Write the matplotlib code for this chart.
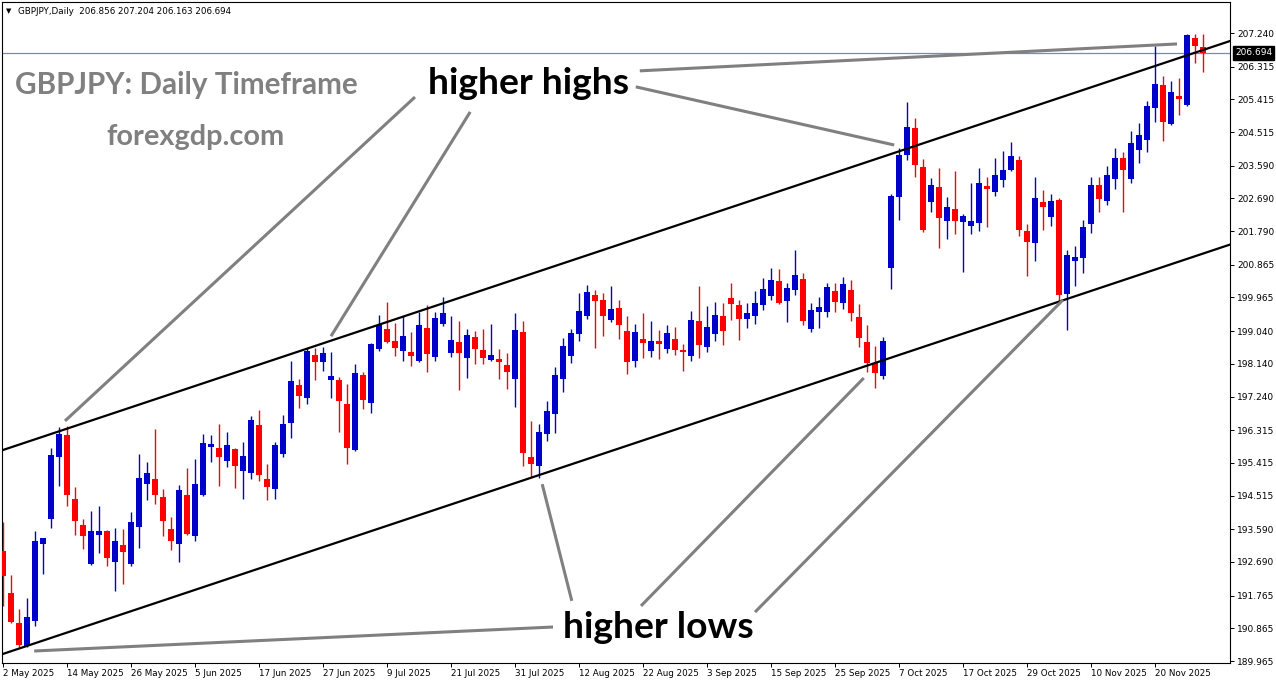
import matplotlib
matplotlib.use('Agg')
import matplotlib.pyplot as plt

# GBPJPY daily candles, 2 May 2025 .. 28 Nov 2025
opens = [192.99, 191.84, 191.01, 190.38, 191.07, 193.19, 193.87, 195.58, 196.18, 194.42,
         193.71, 192.63, 193.43, 193.54, 192.69, 193.16, 192.63, 193.65, 194.83, 194.97,
         194.48, 193.60, 193.19, 194.53, 193.40, 194.53, 195.85, 195.82, 195.47, 195.80,
         195.19, 195.14, 196.46, 194.97, 194.70, 195.66, 196.51, 197.56, 197.20, 198.38,
         198.19, 197.70, 197.70, 197.04, 195.77, 197.83, 197.06, 198.55, 199.10, 198.77,
         198.49, 198.47, 198.22, 199.13, 198.33, 199.24, 198.44, 198.74, 198.30, 198.88,
         198.52, 198.25, 198.28, 198.11, 197.72, 199.02, 195.58, 195.33, 196.21, 196.76,
         197.72, 198.36, 198.96, 199.46, 200.03, 199.90, 199.35, 199.68, 199.04, 198.22,
         198.82, 198.49, 198.77, 198.55, 198.82, 198.52, 198.36, 199.32, 198.60, 198.96,
         199.46, 199.95, 199.76, 199.37, 199.46, 199.76, 200.01, 200.42, 199.87, 200.17,
         200.47, 199.10, 199.57, 199.57, 200.14, 199.81, 200.17, 199.43, 198.74, 198.17,
         197.81, 200.78, 202.73, 203.89, 204.63, 203.56, 202.59, 203.00, 202.07, 202.40,
         202.04, 201.93, 202.01, 203.03, 202.87, 203.20, 203.47, 203.75, 201.79, 201.46,
         202.59, 202.18, 202.65, 200.06, 200.97, 201.05, 201.99, 203.06, 202.62, 203.22,
         203.80, 203.22, 204.02, 204.30, 205.18, 205.81, 204.74, 205.51, 205.26, 207.10,
         206.856]
highs = [193.79, 192.33, 191.40, 191.70, 193.54, 193.36, 195.82, 196.40, 196.43, 194.75,
         193.87, 194.09, 194.23, 193.56, 193.62, 193.60, 194.06, 195.66, 195.44, 196.35,
         194.70, 193.93, 194.81, 195.27, 195.52, 196.21, 196.18, 196.48, 196.26, 195.83,
         195.99, 196.70, 196.87, 195.38, 195.99, 196.73, 198.22, 197.72, 198.58, 198.58,
         198.60, 198.47, 197.78, 197.59, 198.14, 197.92, 198.70, 199.48, 199.84, 199.26,
         199.46, 199.02, 199.57, 199.76, 199.57, 199.98, 199.46, 199.32, 199.10, 199.04,
         199.10, 199.24, 198.55, 198.44, 199.54, 199.32, 196.57, 196.48, 197.12, 198.05,
         198.85, 199.10, 200.09, 200.31, 200.17, 200.09, 200.28, 199.90, 199.46, 199.24,
         199.54, 199.32, 199.07, 199.21, 199.15, 198.69, 199.59, 200.28, 199.73, 199.84,
         199.81, 200.36, 199.90, 199.81, 200.14, 200.50, 200.78, 200.76, 200.36, 201.27,
         200.63, 199.81, 199.98, 200.36, 200.36, 200.53, 200.45, 199.79, 199.21, 198.63,
         198.88, 202.81, 204.08, 205.34, 204.90, 203.78, 203.25, 203.53, 202.73, 203.45,
         202.26, 203.11, 203.53, 203.28, 203.80, 204.00, 204.24, 203.86, 201.99, 203.28,
         202.92, 202.81, 202.70, 201.27, 201.38, 202.10, 203.28, 203.28, 203.58, 204.08,
         203.97, 204.55, 204.77, 205.37, 206.88, 206.06, 205.92, 206.00, 207.21, 207.21,
         207.204]
lows = [191.48, 191.00, 190.35, 190.35, 190.93, 192.36, 193.62, 194.78, 194.23, 193.43,
        193.05, 192.60, 192.94, 192.58, 191.90, 192.09, 192.58, 193.08, 194.39, 194.28,
        193.40, 193.02, 192.69, 193.43, 193.27, 194.50, 195.44, 194.78, 195.30, 194.72,
        194.42, 194.97, 194.92, 194.39, 194.42, 195.58, 196.10, 196.93, 197.04, 197.70,
        197.94, 197.20, 196.27, 195.38, 195.74, 196.90, 196.79, 198.49, 198.72, 198.36,
        198.22, 198.08, 198.19, 197.92, 198.22, 199.18, 198.33, 197.42, 197.75, 198.14,
        198.14, 198.22, 197.72, 197.45, 196.95, 195.33, 195.03, 195.00, 196.02, 196.24,
        197.37, 198.17, 198.77, 199.37, 198.58, 198.91, 199.29, 198.82, 197.86, 198.05,
        198.30, 198.33, 198.28, 198.44, 198.38, 197.94, 198.22, 198.30, 198.47, 198.77,
        198.66, 199.35, 198.80, 199.13, 199.24, 199.62, 199.90, 199.79, 199.29, 200.03,
        199.21, 199.02, 199.13, 199.43, 199.57, 199.65, 199.32, 198.60, 197.92, 197.48,
        197.72, 200.20, 202.10, 203.75, 203.28, 201.77, 202.32, 201.33, 201.57, 201.71,
        200.67, 201.71, 201.79, 201.90, 202.76, 203.00, 203.44, 201.66, 200.56, 200.97,
        201.82, 201.93, 199.87, 199.07, 200.28, 200.64, 201.74, 202.32, 202.51, 202.95,
        202.32, 203.11, 203.67, 203.97, 204.79, 204.27, 204.72, 204.99, 205.23, 206.42,
        206.163]
closes = [192.30, 191.04, 190.41, 191.18, 193.27, 193.35, 195.63, 196.21, 194.53, 193.82,
          193.40, 193.54, 193.54, 192.80, 193.27, 192.97, 193.79, 195.00, 195.14, 194.53,
          193.82, 193.27, 194.67, 193.45, 194.83, 195.96, 195.93, 195.58, 195.91, 195.33,
          195.60, 196.59, 195.08, 194.75, 195.91, 196.48, 197.67, 197.26, 198.49, 198.19,
          198.44, 197.81, 197.12, 195.82, 197.89, 197.15, 198.69, 199.21, 198.74, 198.58,
          198.91, 198.36, 199.21, 198.41, 199.40, 199.54, 198.80, 198.44, 198.93, 198.55,
          198.30, 198.38, 198.19, 197.92, 199.07, 195.69, 195.38, 196.26, 196.84, 197.83,
          198.63, 198.99, 199.59, 200.12, 199.87, 199.46, 199.65, 199.21, 198.19, 199.02,
          198.71, 198.77, 198.69, 198.99, 198.52, 198.47, 199.35, 198.66, 199.15, 199.48,
          199.04, 199.79, 199.37, 199.54, 199.81, 200.20, 200.45, 199.81, 200.23, 200.58,
          199.32, 199.62, 199.70, 200.25, 199.84, 200.34, 199.54, 198.85, 198.17, 197.89,
          198.77, 202.76, 203.88, 204.66, 203.61, 201.82, 203.06, 202.15, 202.45, 202.07,
          202.21, 202.07, 203.11, 202.95, 203.34, 203.47, 203.86, 201.82, 201.49, 202.70,
          202.45, 202.62, 200.03, 201.13, 201.08, 201.90, 203.06, 202.67, 203.34, 203.80,
          203.47, 204.22, 204.44, 205.23, 205.84, 204.79, 205.62, 205.43, 207.19, 206.88,
          206.694]

date_ticks = [0, 8, 16, 24, 32, 40, 48, 56, 64, 72, 80, 88, 96, 104, 112, 120, 128, 136, 144]
date_labels = ['2 May 2025', '14 May 2025', '26 May 2025', '5 Jun 2025', '17 Jun 2025',
               '27 Jun 2025', '9 Jul 2025', '21 Jul 2025', '31 Jul 2025', '12 Aug 2025',
               '22 Aug 2025', '3 Sep 2025', '15 Sep 2025', '25 Sep 2025', '7 Oct 2025',
               '17 Oct 2025', '29 Oct 2025', '10 Nov 2025', '20 Nov 2025']
price_labels = ['207.240', '206.315', '205.415', '204.515', '203.590', '202.690', '201.790',
                '200.865', '199.965', '199.040', '198.140', '197.240', '196.315', '195.415',
                '194.515', '193.590', '192.690', '191.765', '190.865', '189.965']
last_price = 206.694

# channel trend lines (bar index, price)
upper_channel = ([0, 153.5], [195.77, 207.03])
lower_channel = ([0, 153.5], [190.16, 201.43])
# grey pointer lines from the labels to the swing points
pointers = [
    ([79.6, 146.75], [206.20, 206.94]),
    ([79.1, 111.4], [205.76, 204.16]),
    ([51.5, 7.75], [205.48, 196.57]),
    ([58.4, 41.0], [205.07, 198.90]),
    ([68.75, 3.9], [190.90, 190.24]),
    ([71.1, 67.4], [191.62, 194.83]),
    ([79.75, 107.6], [191.48, 197.75]),
    ([94.0, 132.5], [191.31, 199.90]),
]

W, H = 1276, 684
fig = plt.figure(figsize=(W / 100, H / 100), dpi=100)
fig.patch.set_facecolor('white')
ax = fig.add_axes([2 / W, 21 / H, 1228 / W, 661 / H])

bull = '#0000cd'
bear = '#ff0000'
for i in range(len(opens)):
    o, h, l, c = opens[i], highs[i], lows[i], closes[i]
    col = bull if c >= o else bear
    ax.vlines(i, l, h, color=col, linewidth=1.0, zorder=2)
    ax.bar(i, max(abs(c - o), 0.035), bottom=min(o, c), width=0.64,
           color=col, linewidth=0, zorder=3)

ax.axhline(last_price, color='#7b8ba0', linewidth=0.9, zorder=1)
ax.plot(*upper_channel, color='black', linewidth=1.6, zorder=4)
ax.plot(*lower_channel, color='black', linewidth=1.6, zorder=4)
for xs, ys in pointers:
    ax.plot(xs, ys, color='#808080', linewidth=2.2, solid_capstyle='butt', zorder=4)

ax.set_xlim(-0.125, 153.375)
ax.set_ylim(189.91, 208.094)

ax.set_xticks(date_ticks)
ax.set_xticklabels(date_labels, ha='left')
ax.yaxis.tick_right()
ax.set_yticks([float(v) for v in price_labels])
ax.set_yticklabels(price_labels)
ax.tick_params(axis='x', length=3, width=0.7, pad=1.5, labelsize=6.3)
ax.tick_params(axis='y', length=3, width=0.7, pad=2, labelsize=6.5)
for sp in ax.spines.values():
    sp.set_color('black')
    sp.set_linewidth(0.8)

ax.annotate('206.694', xy=(1.0, last_price), xycoords=('axes fraction', 'data'),
            xytext=(3.5, 0), textcoords='offset points', va='center', ha='left',
            fontsize=6.5, color='white',
            bbox=dict(boxstyle='square,pad=0.25', fc='black', ec='black'))

def px(x, y):
    return x / W, 1 - y / H

fig.text(*px(6, 11), '\u25bc', fontsize=5, va='center')
fig.text(*px(18, 11), 'GBPJPY,Daily  206.856 207.204 206.163 206.694', fontsize=6.3, va='center')

fig.text(*px(15, 85), 'GBPJPY: Daily Timeframe', fontsize=21.3, fontweight='bold',
         family='Lato', color='#808080', va='center')
fig.text(*px(106, 137), 'forexgdp.com', fontsize=20.8, fontweight='bold',
         family='Lato', color='#808080', va='center')
fig.text(*px(428, 83), 'higher highs', fontsize=26.8, fontweight='bold',
         family='Lato', color='black', va='center')
fig.text(*px(563, 627), 'higher lows', fontsize=26.8, fontweight='bold',
         family='Lato', color='black', va='center')

fig.savefig('out.png', dpi=100)
